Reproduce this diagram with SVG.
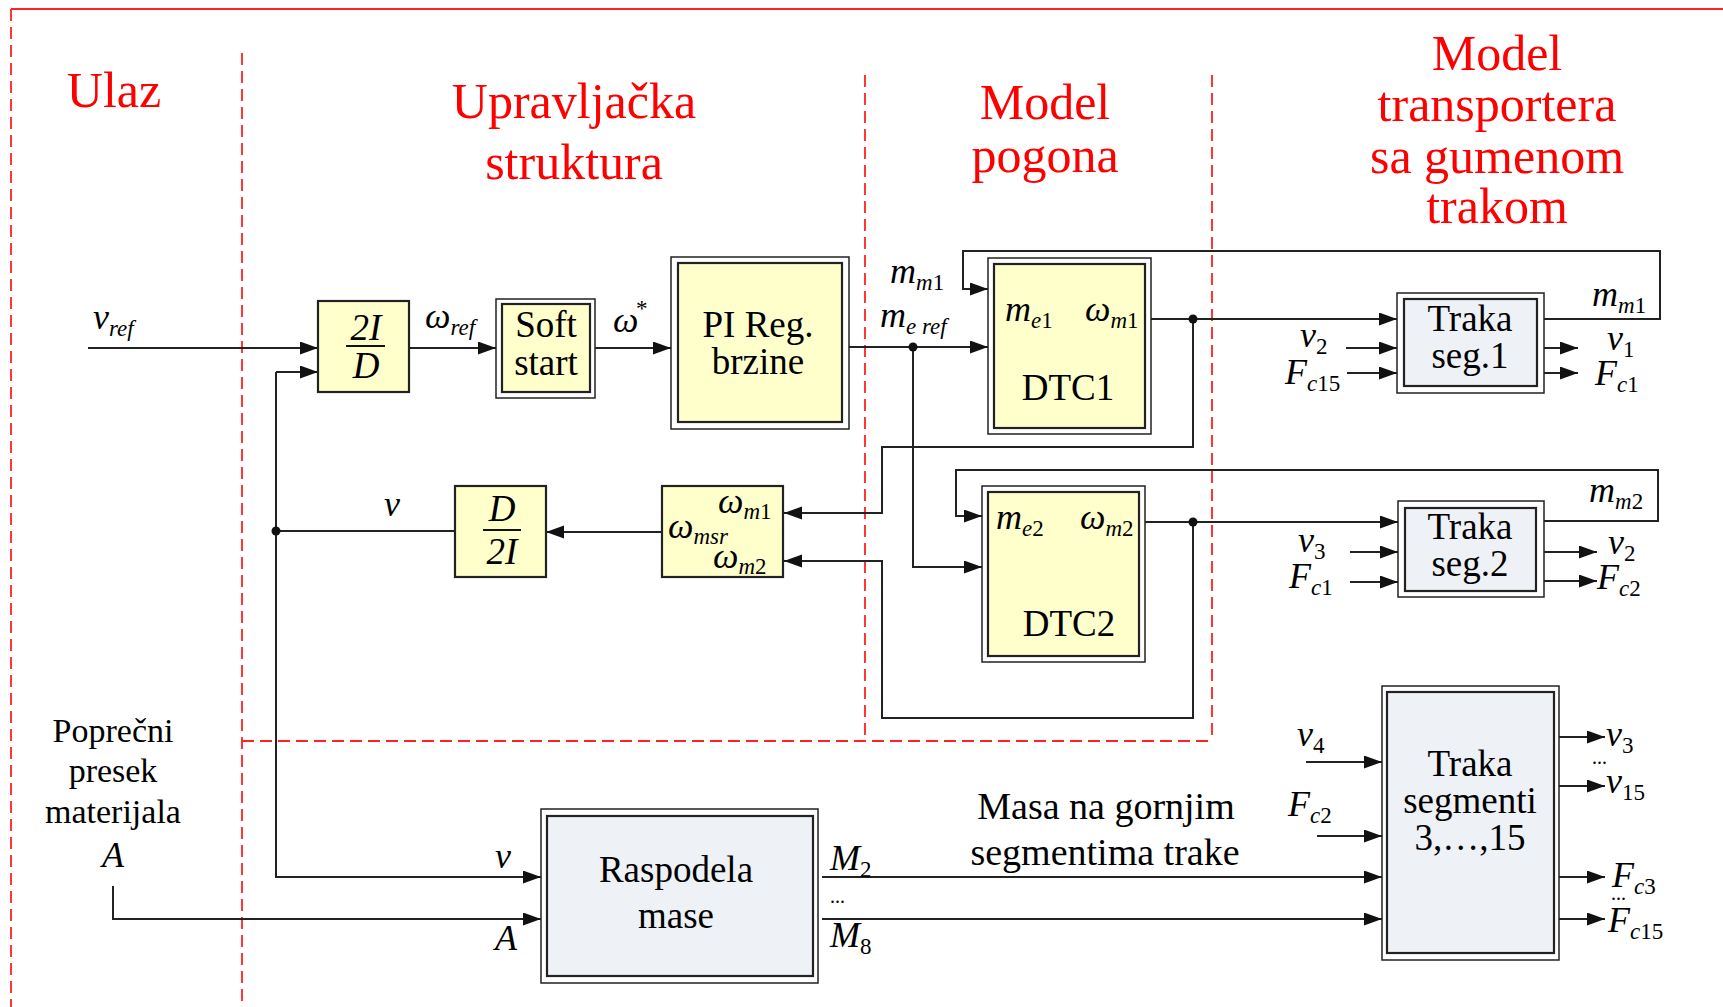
<svg xmlns="http://www.w3.org/2000/svg" width="1723" height="1007" viewBox="0 0 1723 1007">
<defs>
<marker id="a" markerUnits="userSpaceOnUse" markerWidth="18" markerHeight="14" refX="18" refY="6.5" orient="auto">
<path d="M0,0 L18,6.5 L0,13 z" fill="#111"/>
</marker>
<style>
.w{fill:none;stroke:#222;stroke-width:2}
.r{fill:none;stroke:#f22;stroke-width:1.8;stroke-dasharray:12 6}
.o{fill:#fff;stroke:#222;stroke-width:1.5}
.y{fill:#FFFFCC;stroke:#222;stroke-width:2.2}
.g{fill:#EEF1F6;stroke:#222;stroke-width:2.2}
text{font-family:"Liberation Serif","Times New Roman",serif;fill:#000}
.red{fill:#f00;font-size:50px;text-anchor:middle}
.b{font-size:37px;text-anchor:middle}
.l{font-size:36px;font-style:italic}
.s{font-size:23px}
.n{font-style:normal}
.c{text-anchor:middle}
.dot{fill:#111}
</style>
</defs>

<g id="frame">
<line x1="11" y1="9" x2="1723" y2="9" stroke="#f22" stroke-width="2"/>
<line class="r" x1="11" y1="9" x2="11" y2="1007"/>
<line class="r" x1="242" y1="53" x2="242" y2="1007"/>
<line class="r" x1="865" y1="75" x2="865" y2="741"/>
<line class="r" x1="1212" y1="75" x2="1212" y2="741"/>
<line class="r" x1="242" y1="741" x2="1212" y2="741"/>
</g>

<g id="titles">
<text class="red" x="114" y="107">Ulaz</text>
<text class="red" x="574" y="118">Upravljačka</text>
<text class="red" x="574" y="179">struktura</text>
<text class="red" x="1045" y="119">Model</text>
<text class="red" x="1045" y="172">pogona</text>
<text class="red" x="1497" y="70">Model</text>
<text class="red" x="1497" y="121">transportera</text>
<text class="red" x="1497" y="173">sa gumenom</text>
<text class="red" x="1497" y="223">trakom</text>
</g>

<g id="connectors">
<line class="w" x1="88" y1="348" x2="318" y2="348" marker-end="url(#a)"/>
<line class="w" x1="409" y1="348" x2="496" y2="348" marker-end="url(#a)"/>
<line class="w" x1="595" y1="348" x2="671" y2="348" marker-end="url(#a)"/>
<line class="w" x1="849" y1="347" x2="988" y2="347" marker-end="url(#a)"/>
<polyline class="w" points="913,347 913,567 982,567" marker-end="url(#a)"/>
<polyline class="w" points="1544,319 1660,319 1660,251 963,251 963,289 988,289" marker-end="url(#a)"/>
<line class="w" x1="1151" y1="319" x2="1397" y2="319" marker-end="url(#a)"/>
<polyline class="w" points="1193,319 1193,447 882,447 882,513 784,513" marker-end="url(#a)"/>
<polyline class="w" points="1544,521 1658,521 1658,470 956,470 956,516 982,516" marker-end="url(#a)"/>
<line class="w" x1="1145" y1="522" x2="1398" y2="522" marker-end="url(#a)"/>
<polyline class="w" points="1193,522 1193,718 882,718 882,561 784,561" marker-end="url(#a)"/>
<line class="w" x1="662" y1="532" x2="546" y2="532" marker-end="url(#a)"/>
<line class="w" x1="455" y1="531" x2="276" y2="531"/>
<polyline class="w" points="276,372 276,877 541,877" marker-end="url(#a)"/>
<polyline class="w" points="276,372 318,372" marker-end="url(#a)"/>
<polyline class="w" points="113,886 113,919 541,919" marker-end="url(#a)"/>
<line class="w" x1="822" y1="877" x2="1382" y2="877" marker-end="url(#a)"/>
<line class="w" x1="822" y1="919" x2="1382" y2="919" marker-end="url(#a)"/>
<line class="w" x1="1346" y1="348" x2="1397" y2="348" marker-end="url(#a)"/>
<line class="w" x1="1347" y1="373" x2="1397" y2="373" marker-end="url(#a)"/>
<line class="w" x1="1544" y1="348" x2="1578" y2="348" marker-end="url(#a)"/>
<line class="w" x1="1544" y1="373" x2="1578" y2="373" marker-end="url(#a)"/>
<line class="w" x1="1350" y1="552" x2="1398" y2="552" marker-end="url(#a)"/>
<line class="w" x1="1350" y1="582" x2="1398" y2="582" marker-end="url(#a)"/>
<line class="w" x1="1544" y1="552" x2="1597" y2="552" marker-end="url(#a)"/>
<line class="w" x1="1544" y1="581" x2="1597" y2="581" marker-end="url(#a)"/>
<line class="w" x1="1306" y1="762" x2="1382" y2="762" marker-end="url(#a)"/>
<line class="w" x1="1317" y1="836" x2="1382" y2="836" marker-end="url(#a)"/>
<line class="w" x1="1559" y1="737" x2="1605" y2="737" marker-end="url(#a)"/>
<line class="w" x1="1559" y1="786" x2="1605" y2="786" marker-end="url(#a)"/>
<line class="w" x1="1559" y1="877" x2="1605" y2="877" marker-end="url(#a)"/>
<line class="w" x1="1559" y1="919" x2="1605" y2="919" marker-end="url(#a)"/>
<circle class="dot" cx="913" cy="347" r="4.5"/>
<circle class="dot" cx="1193" cy="319" r="4.5"/>
<circle class="dot" cx="1193" cy="522" r="4.5"/>
<circle class="dot" cx="276" cy="531" r="4.5"/>
</g>

<g id="labels">
<text class="l" x="93" y="329">v<tspan class="s" dy="7">ref</tspan></text>
<text class="l" x="425" y="328">ω<tspan class="s" dy="7">ref</tspan></text>
<text class="l" x="613" y="332">ω</text>
<text class="s" x="636" y="316">*</text>
<text class="l" x="890" y="283">m<tspan class="s" dy="7">m<tspan class="n">1</tspan></tspan></text>
<text class="l" x="880" y="327">m<tspan class="s" dy="7">e ref</tspan></text>
<text class="l" x="384" y="516">v</text>
<text class="l" x="495" y="868">v</text>
<text class="l" x="495" y="950">A</text>
<text class="l" x="830" y="870">M<tspan class="s n" dy="7">2</tspan></text>
<text x="830" y="903" font-size="20">...</text>
<text class="l" x="830" y="947">M<tspan class="s n" dy="7">8</tspan></text>
<text class="l" x="1300" y="347">v<tspan class="s n" dy="7">2</tspan></text>
<text class="l" x="1285" y="384">F<tspan class="s" dy="7">c<tspan class="n">15</tspan></tspan></text>
<text class="l" x="1607" y="350">v<tspan class="s n" dy="7">1</tspan></text>
<text class="l" x="1595" y="385">F<tspan class="s" dy="7">c<tspan class="n">1</tspan></tspan></text>
<text class="l" x="1592" y="306">m<tspan class="s" dy="7">m<tspan class="n">1</tspan></tspan></text>
<text class="l" x="1298" y="552">v<tspan class="s n" dy="7">3</tspan></text>
<text class="l" x="1289" y="588">F<tspan class="s" dy="7">c<tspan class="n">1</tspan></tspan></text>
<text class="l" x="1608" y="554">v<tspan class="s n" dy="7">2</tspan></text>
<text class="l" x="1597" y="589">F<tspan class="s" dy="7">c<tspan class="n">2</tspan></tspan></text>
<text class="l" x="1589" y="502">m<tspan class="s" dy="7">m<tspan class="n">2</tspan></tspan></text>
<text class="l" x="1297" y="746">v<tspan class="s n" dy="7">4</tspan></text>
<text class="l" x="1288" y="816">F<tspan class="s" dy="7">c<tspan class="n">2</tspan></tspan></text>
<text class="l" x="1606" y="746">v<tspan class="s n" dy="7">3</tspan></text>
<text x="1592" y="764" font-size="20">...</text>
<text class="l" x="1606" y="793">v<tspan class="s n" dy="7">15</tspan></text>
<text class="l" x="1612" y="887">F<tspan class="s" dy="7">c<tspan class="n">3</tspan></tspan></text>
<text x="1611" y="900" font-size="20">...</text>
<text class="l" x="1608" y="932">F<tspan class="s" dy="7">c<tspan class="n">15</tspan></tspan></text>
<text class="c" x="1106" y="819" font-size="38">Masa na gornjim</text>
<text class="c" x="1105" y="865" font-size="38">segmentima trake</text>
<text class="c" x="113" y="742" font-size="34">Poprečni</text>
<text class="c" x="113" y="782" font-size="34">presek</text>
<text class="c" x="113" y="823" font-size="34">materijala</text>
<text class="c l" x="113" y="867">A</text>
</g>

<g id="n_2ID">
<rect class="y" x="318" y="301" width="91" height="91"/>
<text class="b" x="366" y="340" font-style="italic">2I</text>
<line x1="346" y1="346" x2="385" y2="346" stroke="#111" stroke-width="2"/>
<text class="b" x="366" y="378" font-style="italic">D</text>
</g>

<g id="n_soft">
<rect class="o" x="496" y="299" width="99" height="99"/>
<rect class="y" x="502" y="304" width="88" height="88"/>
<text class="b" x="546" y="337">Soft</text>
<text class="b" x="546" y="375">start</text>
</g>

<g id="n_pi">
<rect class="o" x="671" y="257" width="178" height="172"/>
<rect class="y" x="678" y="263" width="164" height="159"/>
<text class="b" x="758" y="337">PI Reg.</text>
<text class="b" x="758" y="374">brzine</text>
</g>

<g id="n_dtc1">
<rect class="o" x="988" y="258" width="163" height="176"/>
<rect class="y" x="994" y="264" width="151" height="164"/>
<text class="l" x="1005" y="321">m<tspan class="s" dy="7">e<tspan class="n">1</tspan></tspan></text>
<text class="l" x="1085" y="321">ω<tspan class="s" dy="7">m<tspan class="n">1</tspan></tspan></text>
<text class="b" x="1068" y="400">DTC1</text>
</g>

<g id="n_dtc2">
<rect class="o" x="982" y="486" width="163" height="176"/>
<rect class="y" x="988" y="492" width="151" height="164"/>
<text class="l" x="996" y="529">m<tspan class="s" dy="7">e<tspan class="n">2</tspan></tspan></text>
<text class="l" x="1080" y="529">ω<tspan class="s" dy="7">m<tspan class="n">2</tspan></tspan></text>
<text class="b" x="1069" y="636">DTC2</text>
</g>

<g id="n_msr">
<rect class="y" x="662" y="486" width="121" height="91"/>
<text class="l" x="718" y="513" font-size="34">ω<tspan class="s" dy="6">m<tspan class="n">1</tspan></tspan></text>
<text class="l" x="668" y="538" font-size="34">ω<tspan class="s" dy="6">msr</tspan></text>
<text class="l" x="713" y="568" font-size="34">ω<tspan class="s" dy="6">m<tspan class="n">2</tspan></tspan></text>
</g>

<g id="n_D2I">
<rect class="y" x="455" y="486" width="91" height="91"/>
<text class="b" x="502" y="521" font-style="italic">D</text>
<line x1="483" y1="530" x2="521" y2="530" stroke="#111" stroke-width="2"/>
<text class="b" x="502" y="564" font-style="italic">2I</text>
</g>

<g id="n_seg1">
<rect class="o" x="1397" y="293" width="147" height="100"/>
<rect class="g" x="1404" y="299" width="133" height="87"/>
<text class="b" x="1470" y="331">Traka</text>
<text class="b" x="1470" y="368">seg.1</text>
</g>

<g id="n_seg2">
<rect class="o" x="1398" y="501" width="146" height="96"/>
<rect class="g" x="1405" y="508" width="131" height="83"/>
<text class="b" x="1470" y="539">Traka</text>
<text class="b" x="1470" y="576">seg.2</text>
</g>

<g id="n_segs">
<rect class="o" x="1382" y="686" width="177" height="274"/>
<rect class="g" x="1387" y="692" width="167" height="261"/>
<text class="b" x="1470" y="776">Traka</text>
<text class="b" x="1470" y="813">segmenti</text>
<text class="b" x="1470" y="850">3,…,15</text>
</g>

<g id="n_rasp">
<rect class="o" x="541" y="809" width="277" height="174"/>
<rect class="g" x="547" y="816" width="266" height="160"/>
<text class="b" x="676" y="882">Raspodela</text>
<text class="b" x="676" y="928">mase</text>
</g>
</svg>
